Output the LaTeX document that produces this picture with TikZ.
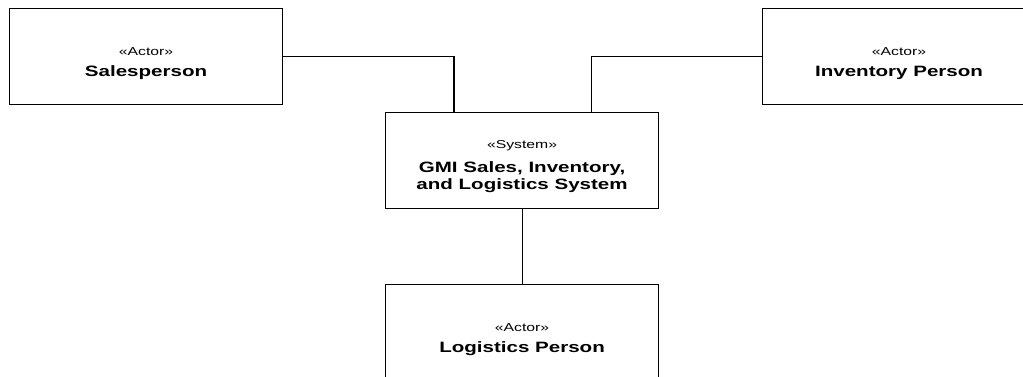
\documentclass[tikz,border=0pt]{standalone}
\usepackage{fontspec}
\setmainfont{Liberation Sans}
\newfontfamily\umlfont[FakeStretch=1.37]{Liberation Sans}
\usetikzlibrary{positioning}

\tikzset{
  umlbox/.style={draw, line width=1.1pt, rectangle, minimum width=273pt, minimum height=96pt, anchor=north west, inner sep=0pt},
  stereo/.style={font=\umlfont\fontsize{11.5}{13}\selectfont, inner sep=0pt},
  boxname/.style={font=\umlfont\bfseries\fontsize{15}{17}\selectfont, align=center, inner sep=0pt},
  link/.style={line width=1.1pt}
}

\begin{document}
\begin{tikzpicture}[x=1pt, y=-1pt]
  \useasboundingbox[clip] (0,0) rectangle (1023,377);

  % Boxes
  \node[umlbox] (sales) at (9,8) {};
  \node[umlbox] (inv) at (762,8) {};
  \node[umlbox] (sys) at (385,112) {};
  \node[umlbox] (logi) at (385,284) {};

  % Labels
  \node[stereo] (salesst) at ([yshift=-44pt]sales.north) {«Actor»};
  \node[boxname] (salesnm) at ([yshift=-65pt]sales.north) {Salesperson};
  \node[stereo] (invst) at ([yshift=-44pt]inv.north) {«Actor»};
  \node[boxname] (invnm) at ([yshift=-65pt]inv.north) {Inventory Person};
  \node[stereo] (sysst) at ([yshift=-34pt]sys.north) {«System»};
  \node[boxname] (sysnm) at ([yshift=-65pt]sys.north) {GMI Sales, Inventory,\\and Logistics System};
  \node[stereo] (logist) at ([yshift=-44pt]logi.north) {«Actor»};
  \node[boxname] (loginm) at ([yshift=-65pt]logi.north) {Logistics Person};

  % Connectors
  \draw[link] (sales.east) -| ([xshift=69pt]sys.north west);
  \draw[link] (inv.west) -| ([xshift=-68pt]sys.north east);
  \draw[link] (sys.south) -- (logi.north);
\end{tikzpicture}
\end{document}
